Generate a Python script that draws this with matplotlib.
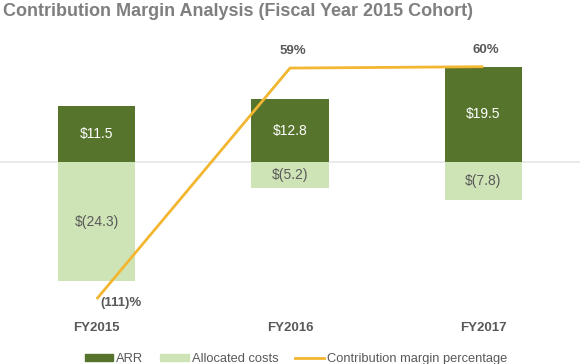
import numpy as np
import matplotlib
matplotlib.use("Agg")
import matplotlib.pyplot as plt
import matplotlib.transforms as mtransforms
from matplotlib.patches import Patch
from matplotlib.lines import Line2D

plt.rcParams['font.family'] = ['Liberation Sans', 'DejaVu Sans']

# data
years = ["FY2015", "FY2016", "FY2017"]
arr = [11.5, 12.8, 19.5]
allocated_costs = [-24.3, -5.2, -7.8]
margin_pct = [-111, 59, 60]
margin_labels = ["(111)%", "59%", "60%"]

DARK_GREEN = "#56742b"
LIGHT_GREEN = "#cfe4b6"
ORANGE = "#f2b631"
TEXT_GRAY = "#595959"

fig = plt.figure(figsize=(5.8, 3.64), dpi=100)
ax = fig.add_axes([0, 0, 1, 1])
x = np.arange(len(years))

ax.axhline(0, color="#e6e6e6", lw=1.2, zorder=0)
ax.bar(x, arr, width=0.4, color=DARK_GREEN, zorder=2)
ax.bar(x, allocated_costs, width=0.4, color=LIGHT_GREEN, zorder=2)

for xi, v in zip(x, arr):
    ax.text(xi, v / 2, f"${v:.1f}", ha="center", va="center",
            color="white", fontsize=10, zorder=3)
for xi, v in zip(x, allocated_costs):
    ax.text(xi, v / 2, f"$({-v:.1f})", ha="center", va="center",
            color=TEXT_GRAY, fontsize=10, zorder=3)

ax.set_xlim(-0.5, 2.5)
ax.set_ylim(-41.2, 33.1)
ax.axis("off")

# category labels under the bars
trans = mtransforms.blended_transform_factory(ax.transData, ax.transAxes)
for xi, name in zip(x, years):
    ax.text(xi, 1 - 328 / 364, name, transform=trans, ha="center", va="center",
            fontsize=9.5, fontweight="bold", color=TEXT_GRAY)

# contribution margin on a second scale
ax2 = ax.twinx()
ax2.plot(x, margin_pct, color=ORANGE, lw=2, solid_capstyle="butt")
ax2.set_ylim(-158.8, 109.1)
ax2.axis("off")

ax2.annotate(margin_labels[0], (x[0], margin_pct[0]), xytext=(3, -3),
             textcoords="offset points", ha="left", va="center",
             fontsize=9.5, fontweight="bold", color=TEXT_GRAY)
for xi, v, lab in zip(x[1:], margin_pct[1:], margin_labels[1:]):
    ax2.annotate(lab, (xi, v), xytext=(2, 12), textcoords="offset points",
                 ha="center", va="center", fontsize=9.5, fontweight="bold",
                 color=TEXT_GRAY)

fig.text(0.005, 1 - 12 / 364, "Contribution Margin Analysis (Fiscal Year 2015 Cohort)",
         ha="left", va="center", fontsize=13, fontweight="bold", color="#7f7f7f")

handles = [
    Patch(color=DARK_GREEN, label="ARR"),
    Patch(color=LIGHT_GREEN, label="Allocated costs"),
    Line2D([], [], color=ORANGE, lw=2, label="Contribution margin percentage"),
]
fig.legend(handles=handles, loc="center", bbox_to_anchor=(0.51, 1 - 359 / 364),
           ncol=3, frameon=False, fontsize=9.3, handlelength=2.2, handleheight=0.55,
           handletextpad=0.25, columnspacing=1.3, labelcolor=TEXT_GRAY)

fig.savefig("out.png", dpi=100)
